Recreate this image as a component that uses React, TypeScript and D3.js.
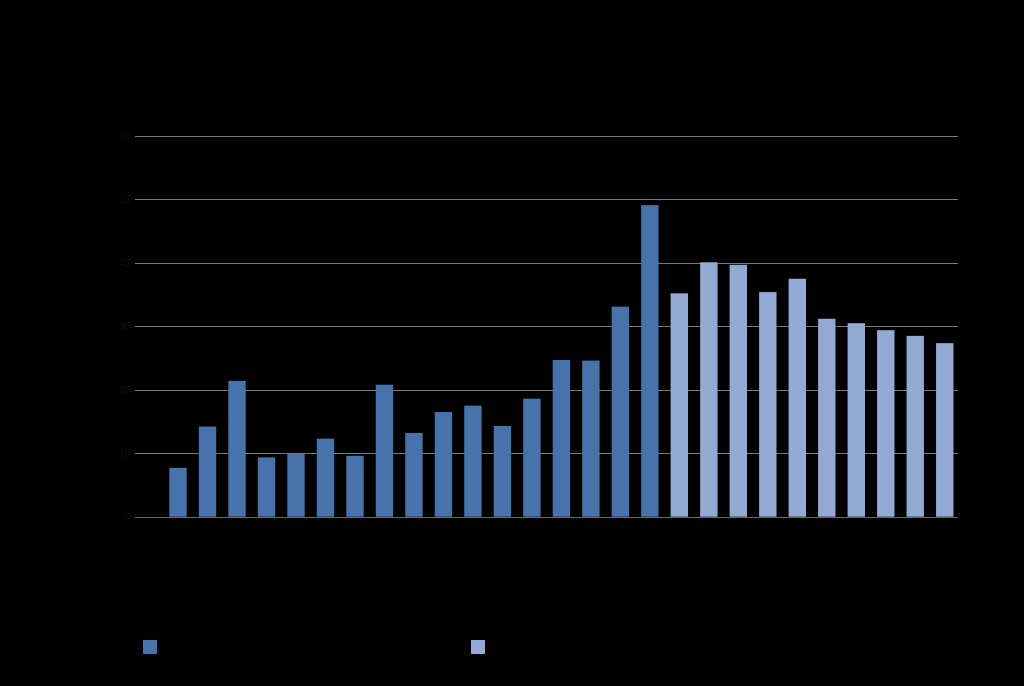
import React from "react";
import * as d3 from "d3";

// Categories (first slot is empty in the reference)
const categories: string[] = [
  "P0", "P1", "P2", "P3", "P4", "P5", "P6", "P7", "P8", "P9",
  "P10", "P11", "P12", "P13", "P14", "P15", "P16", "P17", "P18", "P19",
  "P20", "P21", "P22", "P23", "P24", "P25", "P26", "P27",
];

// Dark series: categories P1..P17
const seriesACategories: string[] = [
  "P1", "P2", "P3", "P4", "P5", "P6", "P7", "P8", "P9", "P10",
  "P11", "P12", "P13", "P14", "P15", "P16", "P17",
];
const seriesAValues: number[] = [
  7.7, 14.2, 21.4, 9.35, 9.9, 12.3, 9.6, 20.8, 13.2, 16.5,
  17.5, 14.3, 18.6, 24.7, 24.6, 33.1, 49.1,
];

// Light series: categories P18..P27
const seriesBCategories: string[] = [
  "P18", "P19", "P20", "P21", "P22", "P23", "P24", "P25", "P26", "P27",
];
const seriesBValues: number[] = [
  35.2, 40.1, 39.7, 35.4, 37.5, 31.2, 30.5, 29.4, 28.5, 27.35,
];

const yTicks: number[] = [0, 10, 20, 30, 40, 50, 60];

export default function App() {
  const W = 1024;
  const H = 686;
  const gridX0 = 135;
  const gridX1 = 958;

  const x = d3
    .scaleBand<string>()
    .domain(categories)
    .range([133.8, 959.5])
    .paddingInner(0.41)
    .paddingOuter(0.205);

  const y = d3.scaleLinear().domain([0, 60]).range([516.7, 136]);

  const darkColor = "#4873aa";
  const lightColor = "#94aad4";

  return (
    <svg
      width={W}
      height={H}
      style={{ position: "fixed", left: 0, top: 0, display: "block" }}
      fontFamily="Liberation Sans, Arial, sans-serif"
    >
      <rect x={0} y={0} width={W} height={H} fill="#000" />
      {yTicks.map((t) => (
        <g key={t}>
          <line
            x1={gridX0}
            x2={gridX1}
            y1={Math.round(y(t)) + 0.5}
            y2={Math.round(y(t)) + 0.5}
            stroke="#7a7a7a"
            strokeWidth={1}
          />
          <text
            x={gridX0 - 4}
            y={y(t)}
            dy="0.35em"
            textAnchor="end"
            fontSize={11}
            fill="#0c0c0c"
          >
            {t}
          </text>
        </g>
      ))}
      {seriesAValues.map((v, i) => (
        <rect
          key={"a" + i}
          x={x(seriesACategories[i])!}
          y={y(v)}
          width={x.bandwidth()}
          height={y(0) - y(v)}
          fill={darkColor}
        />
      ))}
      {seriesBValues.map((v, i) => (
        <rect
          key={"b" + i}
          x={x(seriesBCategories[i])!}
          y={y(v)}
          width={x.bandwidth()}
          height={y(0) - y(v)}
          fill={lightColor}
        />
      ))}
      <line
        x1={gridX0}
        x2={gridX1}
        y1={Math.round(y(0)) + 0.5}
        y2={Math.round(y(0)) + 0.5}
        stroke="#6a6a6a"
        strokeWidth={1}
      />
      {/* Legend swatches */}
      <rect x={143} y={640} width={14} height={14} fill={darkColor} />
      <rect x={471} y={640} width={14} height={14} fill={lightColor} />
    </svg>
  );
}
